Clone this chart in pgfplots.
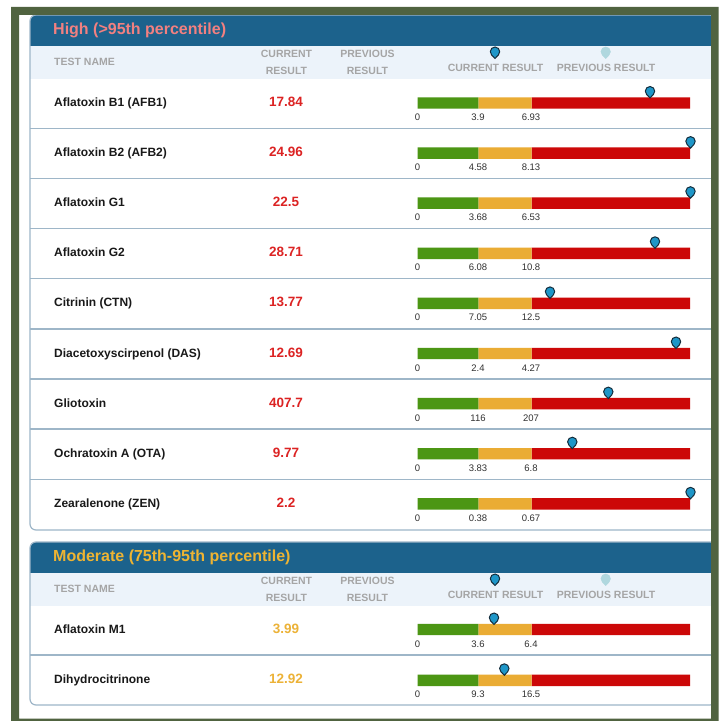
\documentclass[border=0pt]{standalone}
\usepackage{fontspec}
\setmainfont{Liberation Sans}
\usepackage{pgfplots}
\pgfplotsset{compat=1.18}
\usepackage{pgfplotstable}

\definecolor{frameGreen}{RGB}{80,99,64}
\definecolor{hdrBlue}{RGB}{28,98,140}
\definecolor{hdrLight}{RGB}{236,243,250}
\definecolor{borderC}{RGB}{158,182,200}
\definecolor{gGreen}{RGB}{76,150,20}
\definecolor{gOrange}{RGB}{234,172,52}
\definecolor{gRed}{RGB}{204,8,8}
\definecolor{valRed}{RGB}{220,35,35}
\definecolor{valGold}{RGB}{236,178,55}
\definecolor{titlePink}{RGB}{242,128,128}
\definecolor{titleGold}{RGB}{238,180,50}
\definecolor{hdrGray}{RGB}{165,165,165}
\definecolor{nameC}{RGB}{25,25,25}
\definecolor{lblC}{RGB}{50,50,50}
\definecolor{pinFill}{RGB}{30,150,200}
\definecolor{pinDraw}{RGB}{20,45,60}
\definecolor{pinLight}{RGB}{175,215,222}

\pgfdeclareplotmark{pin}{%
  \pgfpathmoveto{\pgfpoint{0bp}{0bp}}%
  \pgfpathlineto{\pgfpoint{-3.4bp}{3.55bp}}%
  \pgfpatharc{223.8}{-43.8}{4.7bp}%
  \pgfpathclose
  \pgfusepathqfillstroke}

% gauge geometry (pixel units): start, green, orange, red widths
\pgfplotstableread{
y      base   g     o     r
103.0  417.5  60.8  53.4  158.3
153.1  417.5  60.8  53.4  158.3
203.2  417.5  60.8  53.4  158.3
253.3  417.5  60.8  53.4  158.3
303.4  417.5  60.8  53.4  158.3
353.5  417.5  60.8  53.4  158.3
403.6  417.5  60.8  53.4  158.3
453.7  417.5  60.8  53.4  158.3
503.8  417.5  60.8  53.4  158.3
629.5  417.5  60.8  53.4  158.3
680.3  417.5  60.8  53.4  158.3
}\gauges

% current-result pin positions (tip)
\pgfplotstableread{
x      y
650.0  98.0
690.5  148.1
690.5  198.2
655.0  248.3
550.0  298.4
676.0  348.5
608.3  398.6
572.3  448.7
690.5  498.8
494.0  624.5
504.3  675.3
}\pins

\newcommand\namefont{\fontsize{12bp}{14bp}\selectfont\bfseries}
\newcommand\valfont{\fontsize{13.5bp}{15bp}\selectfont\bfseries}
\newcommand\lblfont{\fontsize{9.5bp}{11bp}\selectfont}
\newcommand\hdrfont{\fontsize{10.5bp}{12bp}\selectfont\bfseries}
\newcommand\titlefont{\fontsize{16bp}{18bp}\selectfont\bfseries}

\tikzset{txt/.style={inner sep=0pt, text height=0.716em, text depth=0pt}}

\newcommand\gaugerow[6]{%
  \node[txt, anchor=west, font=\namefont, text=nameC] at (axis cs:54,#1) {#2};
  \node[txt, font=\valfont, text=#6] at (axis cs:286,#1) {#3};
  \node[txt, font=\lblfont, text=lblC] at ([yshift=-14bp]axis cs:417.5,#1) {0};
  \node[txt, font=\lblfont, text=lblC] at ([yshift=-14bp]axis cs:478,#1) {#4};
  \node[txt, font=\lblfont, text=lblC] at ([yshift=-14bp]axis cs:531,#1) {#5};
}

\newcommand\headerblock[3]{% #1 top y, #2 title, #3 title colour
  \node[txt, anchor=west, font=\titlefont, text=#3] at ([yshift=-16bp]axis cs:53,#1) {#2};
  \node[txt, anchor=west, font=\hdrfont, text=hdrGray] at ([yshift=-47bp]axis cs:54,#1) {TEST NAME};
  \node[txt, font=\hdrfont, text=hdrGray] at ([yshift=-38.5bp]axis cs:286.5,#1) {CURRENT};
  \node[txt, font=\hdrfont, text=hdrGray] at ([yshift=-55.5bp]axis cs:286.5,#1) {RESULT};
  \node[txt, font=\hdrfont, text=hdrGray] at ([yshift=-38.5bp]axis cs:367.5,#1) {PREVIOUS};
  \node[txt, font=\hdrfont, text=hdrGray] at ([yshift=-55.5bp]axis cs:367.5,#1) {RESULT};
  \node[txt, font=\hdrfont, text=hdrGray] at ([yshift=-53bp]axis cs:495.5,#1) {CURRENT RESULT};
  \node[txt, font=\hdrfont, text=hdrGray] at ([yshift=-53bp]axis cs:606,#1) {PREVIOUS RESULT};
}

\pgfplotsset{base/.style={width=722bp, height=721bp, scale only axis,
  xmin=0, xmax=722, ymin=0, ymax=721, y dir=reverse, hide axis,
  clip=false, at={(0,0)}, anchor=south west}}

\begin{document}
\begin{tikzpicture}
% ---------- backgrounds and text ----------
\begin{axis}[base]
  \fill[white] (axis cs:0,0) rectangle (axis cs:722,721);
  % High table
  \fill[white, rounded corners=6bp] (axis cs:30,15) rectangle (axis cs:716,530);
  \fill[hdrBlue, rounded corners=6bp] (axis cs:30,15) rectangle (axis cs:716,56);
  \fill[hdrLight] (axis cs:30,46) rectangle (axis cs:716,79);
  \foreach \s in {128.5,178.6,228.7,278.8,328.9,379.0,429.1,479.2}{
    \edef\tmp{\noexpand\draw[borderC, line width=1.3bp] (axis cs:30,\s) -- (axis cs:716,\s);}\tmp
  }
  \draw[borderC, line width=1.2bp, rounded corners=6bp] (axis cs:30,15) rectangle (axis cs:716,530);
  % Moderate table
  \fill[white, rounded corners=6bp] (axis cs:30,542) rectangle (axis cs:716,705);
  \fill[hdrBlue, rounded corners=6bp] (axis cs:30,542) rectangle (axis cs:716,583);
  \fill[hdrLight] (axis cs:30,573) rectangle (axis cs:716,606);
  \draw[borderC, line width=1.3bp] (axis cs:30,655) -- (axis cs:716,655);
  \draw[borderC, line width=1.2bp, rounded corners=6bp] (axis cs:30,542) rectangle (axis cs:716,705);

  \headerblock{15}{High (>95th percentile)}{titlePink}
  \headerblock{542}{Moderate (75th-95th percentile)}{titleGold}

  \gaugerow{103.0}{Aflatoxin B1 (AFB1)}{17.84}{3.9}{6.93}{valRed}
  \gaugerow{153.1}{Aflatoxin B2 (AFB2)}{24.96}{4.58}{8.13}{valRed}
  \gaugerow{203.2}{Aflatoxin G1}{22.5}{3.68}{6.53}{valRed}
  \gaugerow{253.3}{Aflatoxin G2}{28.71}{6.08}{10.8}{valRed}
  \gaugerow{303.4}{Citrinin (CTN)}{13.77}{7.05}{12.5}{valRed}
  \gaugerow{353.5}{Diacetoxyscirpenol (DAS)}{12.69}{2.4}{4.27}{valRed}
  \gaugerow{403.6}{Gliotoxin}{407.7}{116}{207}{valRed}
  \gaugerow{453.7}{Ochratoxin A (OTA)}{9.77}{3.83}{6.8}{valRed}
  \gaugerow{503.8}{Zearalenone (ZEN)}{2.2}{0.38}{0.67}{valRed}
  \gaugerow{629.5}{Aflatoxin M1}{3.99}{3.6}{6.4}{valGold}
  \gaugerow{680.3}{Dihydrocitrinone}{12.92}{9.3}{16.5}{valGold}
\end{axis}
% ---------- gauge bars ----------
\begin{axis}[base, xbar stacked, bar width=11.4]
  \addplot[draw=none, fill=none, forget plot] table[x=base, y=y] \gauges;
  \addplot[draw=none, fill=gGreen] table[x=g, y=y] \gauges;
  \addplot[draw=none, fill=gOrange] table[x=o, y=y] \gauges;
  \addplot[draw=none, fill=gRed] table[x=r, y=y] \gauges;
\end{axis}
% ---------- pins and frame ----------
\begin{axis}[base]
  \addplot[only marks, mark=pin, mark options={fill=pinFill, draw=pinDraw, line width=1bp}] table[x=x, y=y] \pins;
  % legend pins
  \addplot[only marks, mark=pin, mark options={fill=pinFill, draw=pinDraw, line width=1bp}] coordinates {(495,58.5) (495,585.5)};
  \addplot[only marks, mark=pin, mark options={fill=pinLight, draw=pinLight, line width=0.6bp}] coordinates {(605.7,58.5) (605.7,585.5)};
  \fill[frameGreen, even odd rule] (axis cs:11,7) rectangle (axis cs:718.5,721)
       (axis cs:19,15) rectangle (axis cs:711,718.7);
\end{axis}
\end{tikzpicture}
\end{document}
